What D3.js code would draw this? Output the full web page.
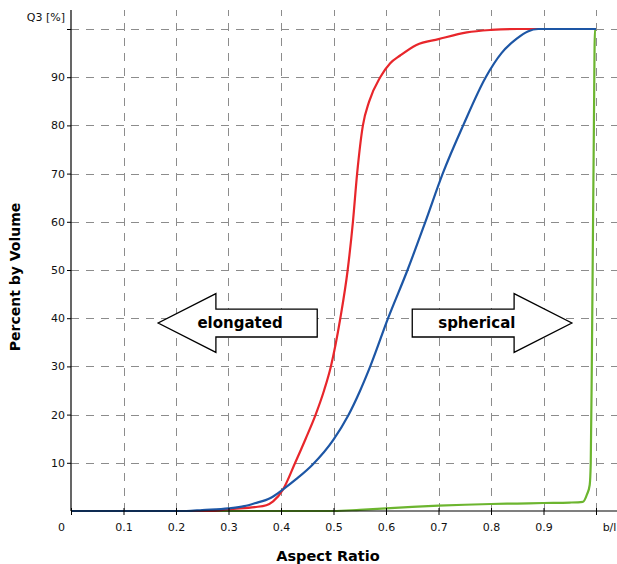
<!DOCTYPE html>
<html>
<head>
<meta charset="utf-8">
<script src="https://cdn.jsdelivr.net/npm/d3@7"></script>
<style>
  body { margin: 0; background: #fff; }
  svg { display: block; font-family: 'DejaVu Sans', Verdana, sans-serif; }
  .grid line { stroke: #8c8c8c; stroke-width: 1; stroke-dasharray: 8 7; }
  .axis-title { font-size: 14.5px; font-weight: bold; fill: #000; }
  .arrow-text { font-size: 15px; font-weight: bold; fill: #000; }
</style>
</head>
<body>
<div id="chart"></div>
<script>
// x ticks (aspect ratio b/l) and y ticks (Q3 %)
const xTicks = [0, 0.1, 0.2, 0.3, 0.4, 0.5, 0.6, 0.7, 0.8, 0.9, 1.0]
const xTickLabels = ['0', '0.1', '0.2', '0.3', '0.4', '0.5', '0.6', '0.7', '0.8', '0.9', 'b/l']
const yTicks = [10, 20, 30, 40, 50, 60, 70, 80, 90, 100]
const yTickLabels = ['10', '20', '30', '40', '50', '60', '70', '80', '90', 'Q3 [%]']

// cumulative curves: [aspect ratio, percent]
const greenSeries = [
  [0, 0], [0.5, 0], [0.55, 0.25], [0.6, 0.55], [0.65, 0.85], [0.7, 1.1], [0.75, 1.3],
  [0.8, 1.45], [0.85, 1.55], [0.9, 1.66], [0.95, 1.75], [0.975, 1.9], [0.983, 3.5],
  [0.988, 5.4], [0.99, 10], [0.992, 30], [0.994, 55], [0.996, 80], [0.998, 100], [1.0, 100]
]
const redSeries = [
  [0, 0], [0.27, 0], [0.3, 0.4], [0.35, 0.8], [0.372, 1.2], [0.385, 2], [0.404, 4.5],
  [0.427, 10], [0.447, 15], [0.466, 20], [0.482, 25], [0.495, 30], [0.513, 40],
  [0.527, 50], [0.537, 60], [0.545, 70], [0.556, 80], [0.568, 85], [0.589, 90],
  [0.608, 92.9], [0.627, 94.5], [0.658, 96.7], [0.7, 97.9], [0.754, 99.3],
  [0.8, 99.8], [0.85, 100], [1.0, 100]
]
const blueSeries = [
  [0, 0], [0.22, 0], [0.25, 0.2], [0.3, 0.55], [0.33, 1.0], [0.35, 1.6], [0.38, 2.7],
  [0.404, 4.5], [0.43, 6.7], [0.46, 9.6], [0.5, 14.8], [0.528, 19.8], [0.55, 24.8],
  [0.57, 30], [0.604, 40], [0.641, 50], [0.675, 60], [0.708, 70], [0.747, 80],
  [0.79, 90], [0.82, 95], [0.849, 98], [0.87, 99.5], [0.89, 100], [1.0, 100]
]

// annotation arrows in data units
const arrows = [
  { label: 'elongated', tail: 0.469, headBase: 0.276, tip: 0.166, y: 39, textX: 0.322 },
  { label: 'spherical', tail: 0.65, headBase: 0.844, tip: 0.954, y: 39, textX: 0.773 }
]

const width = 617
const height = 564

const x = d3.scaleLinear().domain([0, 1]).range([71, 596])
const y = d3.scaleLinear().domain([0, 100]).range([511, 29])

const svg = d3.select('#chart')
  .append('svg')
  .attr('width', width)
  .attr('height', height)

// grid
const grid = svg.append('g').attr('class', 'grid')
grid.selectAll('.h')
  .data(yTicks)
  .join('line')
  .attr('x1', x(0))
  .attr('x2', width)
  .attr('y1', d => Math.round(y(d)) + 0.5)
  .attr('y2', d => Math.round(y(d)) + 0.5)
grid.selectAll('.v')
  .data(xTicks.slice(1))
  .join('line')
  .attr('x1', d => Math.round(x(d)) + 0.5)
  .attr('x2', d => Math.round(x(d)) + 0.5)
  .attr('y1', y(0))
  .attr('y2', 10)

// curves
const line = d3.line()
  .x(d => x(d[0]))
  .y(d => y(d[1]))
  .curve(d3.curveMonotoneX)

const series = [
  { data: greenSeries, color: '#6cb52f' },
  { data: redSeries, color: '#e8262b' },
  { data: blueSeries, color: '#1d56a5' }
]
svg.append('g')
  .selectAll('path')
  .data(series)
  .join('path')
  .attr('fill', 'none')
  .attr('stroke', d => d.color)
  .attr('stroke-width', 2.2)
  .attr('stroke-linejoin', 'round')
  .attr('d', d => line(d.data))

// y axis
const yAxis = svg.append('g')
  .attr('transform', `translate(${x(0)}, 0)`)
  .call(d3.axisLeft(y).tickValues(yTicks).tickSize(4).tickPadding(2)
    .tickFormat((d, i) => yTickLabels[i]))
  .attr('font-family', "'DejaVu Sans', Verdana, sans-serif")
  .attr('font-size', 11)
yAxis.select('.domain').remove()
yAxis.selectAll('.tick text').attr('fill', '#111')
yAxis.selectAll('.tick')
  .filter(d => d === 100)
  .select('text')
  .attr('dy', '-0.75em')
yAxis.append('line')
  .attr('x1', 0).attr('x2', 0)
  .attr('y1', y(0)).attr('y2', 10)
  .attr('stroke', '#000')
  .attr('stroke-width', 1.2)

// x axis
const xAxis = svg.append('g')
  .attr('transform', `translate(0, ${y(0)})`)
  .call(d3.axisBottom(x).tickValues(xTicks).tickSize(4).tickPadding(8)
    .tickFormat((d, i) => xTickLabels[i]))
  .attr('font-family', "'DejaVu Sans', Verdana, sans-serif")
  .attr('font-size', 11)
xAxis.select('.domain').remove()
xAxis.selectAll('.tick text').attr('fill', '#111')
xAxis.selectAll('.tick line').attr('y1', -3)
xAxis.selectAll('.tick')
  .filter(d => d === 0)
  .select('text')
  .attr('dx', -10)
xAxis.selectAll('.tick')
  .filter(d => d === 1)
  .select('text')
  .attr('dx', 13)
xAxis.append('line')
  .attr('x1', x(0)).attr('x2', width)
  .attr('y1', 0).attr('y2', 0)
  .attr('stroke', '#000')
  .attr('stroke-width', 1.2)

// axis titles
svg.append('text')
  .attr('class', 'axis-title')
  .attr('x', 328)
  .attr('y', 561)
  .attr('text-anchor', 'middle')
  .text('Aspect Ratio')

svg.append('text')
  .attr('class', 'axis-title')
  .style('font-size', '14px')
  .attr('transform', 'translate(20, 277) rotate(-90)')
  .attr('text-anchor', 'middle')
  .text('Percent by Volume')

// arrows
const bodyHalf = 2.9
const headHalf = 6.1
const arrowG = svg.append('g')
arrowG.selectAll('path')
  .data(arrows)
  .join('path')
  .attr('fill', '#fff')
  .attr('stroke', '#000')
  .attr('stroke-width', 1.3)
  .attr('d', a => {
    const pts = [
      [a.tail, a.y + bodyHalf], [a.headBase, a.y + bodyHalf], [a.headBase, a.y + headHalf],
      [a.tip, a.y], [a.headBase, a.y - headHalf], [a.headBase, a.y - bodyHalf], [a.tail, a.y - bodyHalf]
    ]
    return 'M' + pts.map(p => `${x(p[0])},${y(p[1])}`).join('L') + 'Z'
  })
arrowG.selectAll('text')
  .data(arrows)
  .join('text')
  .attr('class', 'arrow-text')
  .attr('x', a => x(a.textX))
  .attr('y', a => y(a.y))
  .attr('dy', '0.36em')
  .attr('text-anchor', 'middle')
  .text(a => a.label)
</script>
</body>
</html>
